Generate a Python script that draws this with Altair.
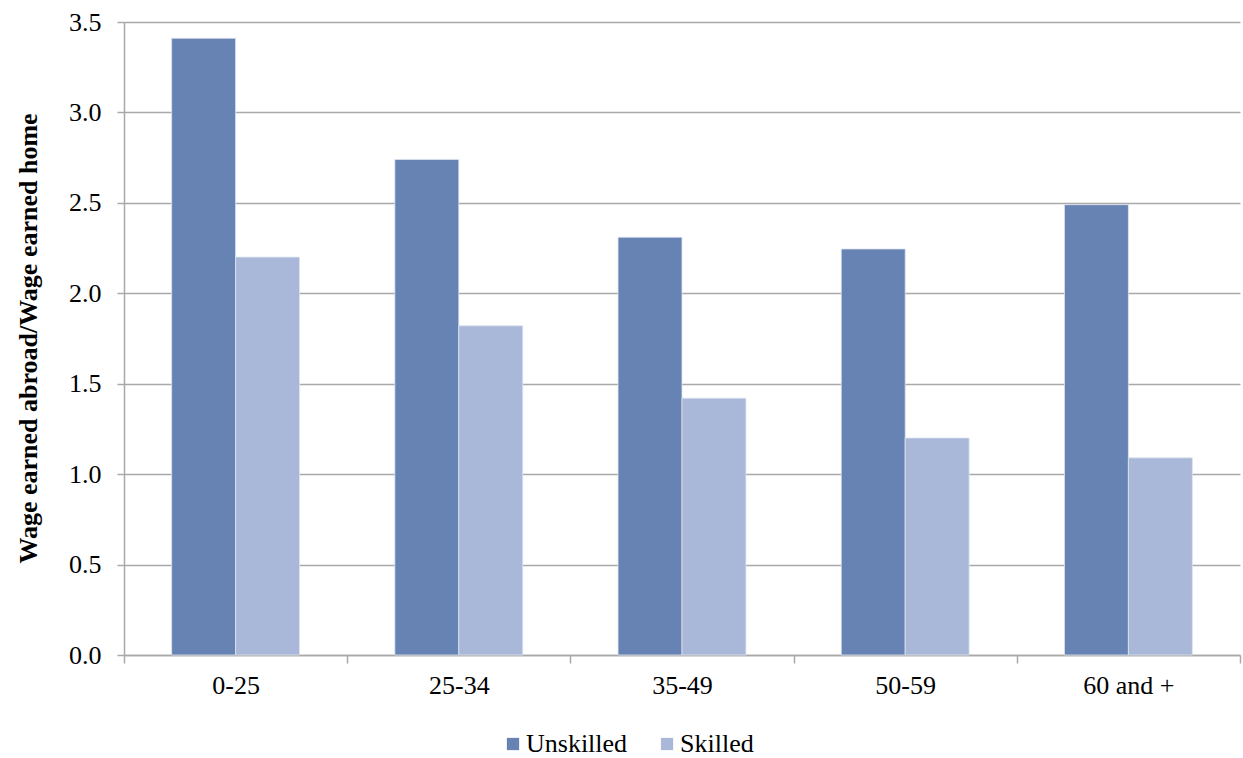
import altair as alt
import pandas as pd

# Ratio of wage earned abroad to wage earned at home, by age group and skill level
age_groups = ["0-25", "25-34", "35-49", "50-59", "60 and +"]
unskilled = [3.41, 2.74, 2.31, 2.245, 2.49]
skilled = [2.20, 1.82, 1.42, 1.20, 1.09]
series = ["Unskilled", "Skilled"]
colors = ["#6783B3", "#A9B8D8"]
y_ticks = [0.0, 0.5, 1.0, 1.5, 2.0, 2.5, 3.0, 3.5]

rows = []
for g, u, s in zip(age_groups, unskilled, skilled):
    rows.append({"age": g, "skill": "Unskilled", "ratio": u})
    rows.append({"age": g, "skill": "Skilled", "ratio": s})
df = pd.DataFrame(rows)

FONT = "Liberation Serif"
FS = 26
GRID = "#A9A9A9"

chart = (
    alt.Chart(df)
    .mark_bar(stroke="#DDE4F0", strokeWidth=0.8)
    .encode(
        x=alt.X(
            "age:N",
            sort=age_groups,
            scale=alt.Scale(paddingInner=0, paddingOuter=0),
            axis=alt.Axis(
                title=None,
                labelAngle=0,
                labelFont=FONT,
                labelFontSize=FS,
                labelColor="#000000",
                labelPadding=9,
                tickBand="extent",
                tickSize=8,
                tickColor=GRID,
                tickWidth=1.5,
                domainColor=GRID,
                domainWidth=1.5,
                grid=False,
            ),
        ),
        xOffset=alt.XOffset(
            "skill:N",
            sort=series,
            scale=alt.Scale(paddingInner=0, paddingOuter=0.745),
        ),
        y=alt.Y(
            "ratio:Q",
            scale=alt.Scale(domain=[0, 3.5], nice=False),
            axis=alt.Axis(
                title="Wage earned abroad/Wage earned home",
                titleFont=FONT,
                titleFontSize=FS,
                titleFontWeight="bold",
                titleColor="#000000",
                titleX=-96,
                titleY=316,
                titleAlign="center",
                titleBaseline="middle",
                titleAngle=270,
                values=y_ticks,
                format=".1f",
                labelFont=FONT,
                labelFontSize=FS,
                labelColor="#000000",
                labelPadding=16,
                tickSize=7,
                tickColor=GRID,
                tickWidth=1.5,
                domainColor=GRID,
                domainWidth=1.5,
                grid=True,
                gridColor=GRID,
                gridWidth=1.5,
            ),
        ),
        color=alt.Color(
            "skill:N",
            sort=series,
            scale=alt.Scale(domain=series, range=colors),
            legend=alt.Legend(
                title=None,
                orient="none",
                direction="horizontal",
                legendX=376,
                legendY=709,
                symbolType="square",
                symbolSize=150,
                symbolStrokeWidth=0,
                labelFont=FONT,
                labelFontSize=FS,
                labelColor="#000000",
                labelOffset=0,
                columnPadding=26,
            ),
        ),
    )
    .properties(
        width=1116,
        height=633,
        autosize=alt.AutoSizeParams(type="none"),
        padding={"left": 124, "top": 22, "right": 3, "bottom": 103},
        background="#FFFFFF",
    )
    .configure(font=FONT)
    .configure_view(stroke=None)
)

chart.save("out.html", embed_options={"renderer": "svg", "actions": False})
